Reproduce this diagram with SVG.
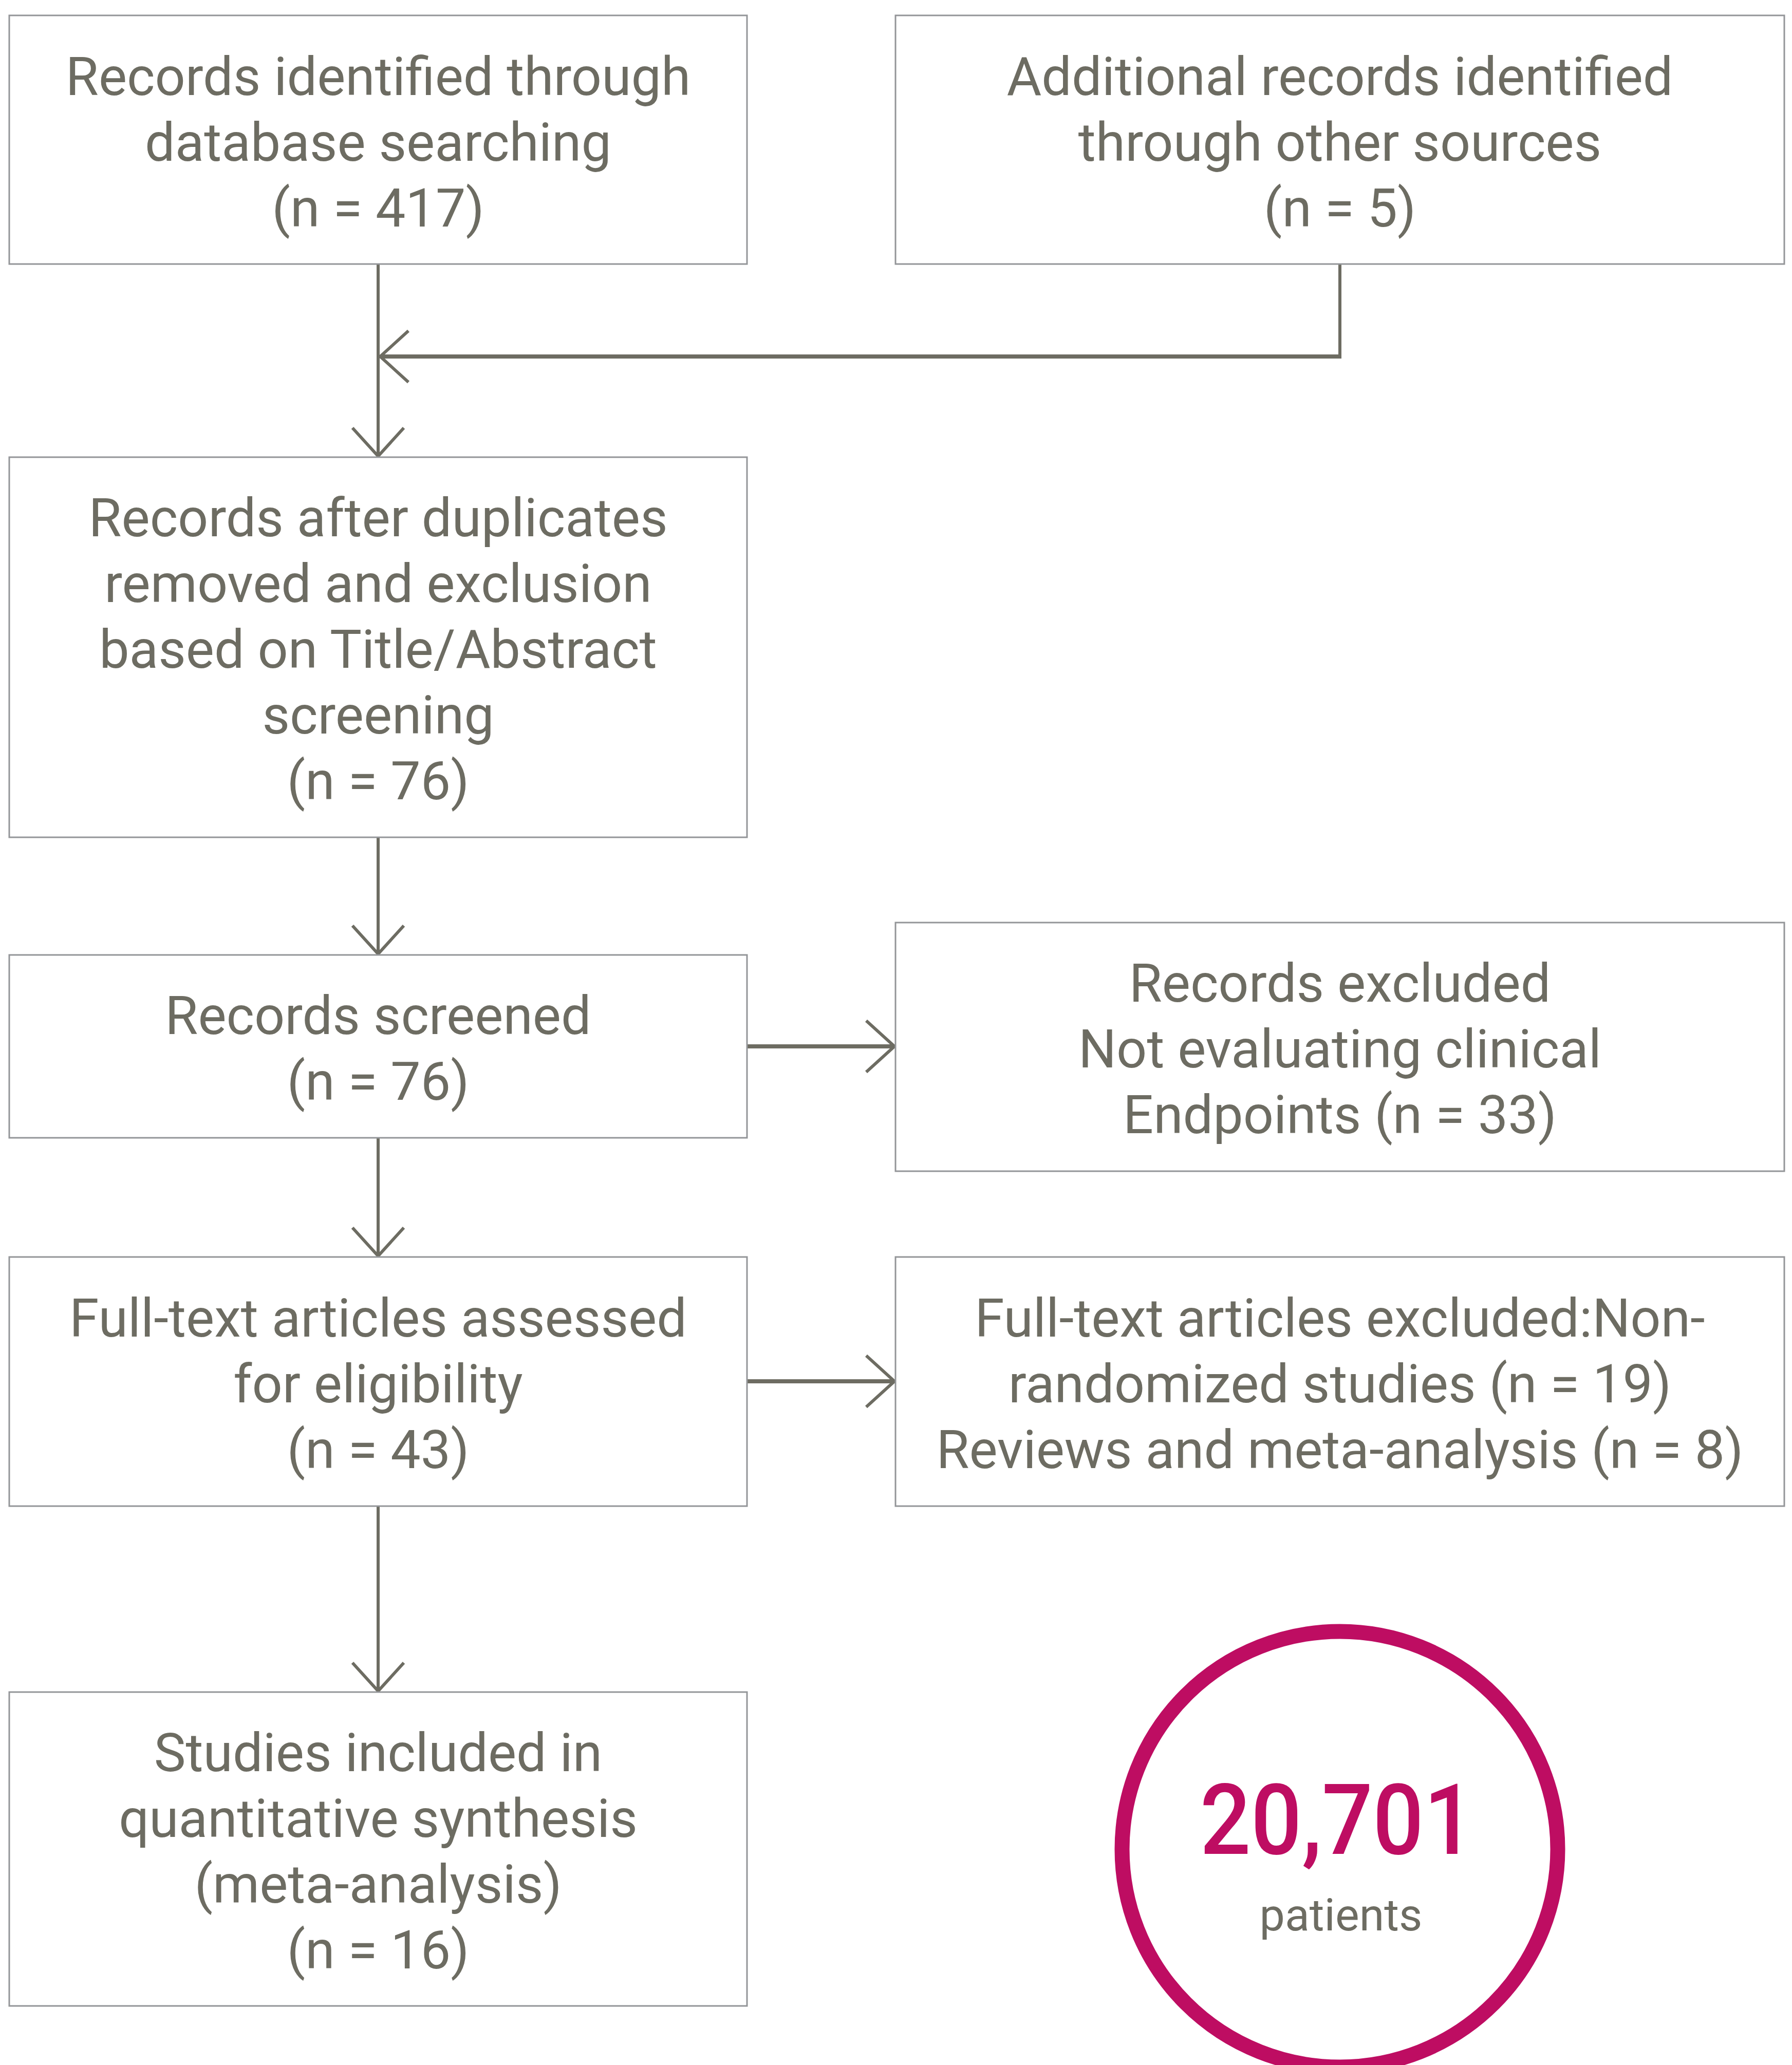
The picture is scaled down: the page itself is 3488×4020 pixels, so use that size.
<svg xmlns="http://www.w3.org/2000/svg" width="3488" height="4020" viewBox="0 0 3488 4020">
  <style>
    .box { fill: #ffffff; stroke: #939598; stroke-width: 3; }
    .t { font-family: Roboto, "Liberation Sans", sans-serif; font-size: 104px; fill: #6d6c62; text-anchor: middle; }
    .conn { fill: none; stroke: #6d6c62; stroke-width: 6; }
    .connh { fill: none; stroke: #6d6c62; stroke-width: 8; }
  </style>
  <defs>
    <marker id="arrow" viewBox="-65 -60 75 120" markerWidth="75" markerHeight="120" refX="0" refY="0" markerUnits="userSpaceOnUse" orient="auto">
      <path d="M -55 -50 L 0 0 L -55 50" fill="none" stroke="#6d6c62" stroke-width="6"/>
    </marker>
  </defs>
  <rect width="3488" height="4020" fill="#ffffff"/>

  <g id="connectors">
    <path class="conn" d="M 736 514 L 736 888" marker-end="url(#arrow)"/>
    <path class="conn" d="M 2608 514 L 2608 694"/>
    <path class="connh" d="M 2611 694 L 740 694" marker-end="url(#arrow)"/>
    <path class="conn" d="M 736 1630 L 736 1857" marker-end="url(#arrow)"/>
    <path class="connh" d="M 1454 2037 L 1741 2037" marker-end="url(#arrow)"/>
    <path class="conn" d="M 736 2215 L 736 2445" marker-end="url(#arrow)"/>
    <path class="connh" d="M 1454 2689 L 1741 2689" marker-end="url(#arrow)"/>
    <path class="conn" d="M 736 2932 L 736 3292" marker-end="url(#arrow)"/>
  </g>

  <g id="node-db">
    <rect class="box" x="18" y="30" width="1436" height="484"/>
    <text class="t" x="736" y="185">Records identified through</text>
    <text class="t" x="736" y="313">database searching</text>
    <text class="t" x="736" y="441">(n = 417)</text>
  </g>
  <g id="node-other">
    <rect class="box" x="1743" y="30" width="1730" height="484"/>
    <text class="t" x="2608" y="185">Additional records identified</text>
    <text class="t" x="2608" y="313">through other sources</text>
    <text class="t" x="2608" y="441">(n = 5)</text>
  </g>
  <g id="node-dup">
    <rect class="box" x="18" y="890" width="1436" height="740"/>
    <text class="t" x="736" y="1044">Records after duplicates</text>
    <text class="t" x="736" y="1172">removed and exclusion</text>
    <text class="t" x="736" y="1300">based on Title/Abstract</text>
    <text class="t" x="736" y="1428">screening</text>
    <text class="t" x="736" y="1556">(n = 76)</text>
  </g>
  <g id="node-screened">
    <rect class="box" x="18" y="1859" width="1436" height="356"/>
    <text class="t" x="736" y="2013">Records screened</text>
    <text class="t" x="736" y="2141">(n = 76)</text>
  </g>
  <g id="node-excluded">
    <rect class="box" x="1743" y="1796" width="1730" height="484"/>
    <text class="t" x="2608" y="1950">Records excluded</text>
    <text class="t" x="2608" y="2078">Not evaluating clinical</text>
    <text class="t" x="2608" y="2206">Endpoints (n = 33)</text>
  </g>
  <g id="node-fulltext">
    <rect class="box" x="18" y="2447" width="1436" height="485"/>
    <text class="t" x="736" y="2602">Full-text articles assessed</text>
    <text class="t" x="736" y="2730">for eligibility</text>
    <text class="t" x="736" y="2858">(n = 43)</text>
  </g>
  <g id="node-ftexcluded">
    <rect class="box" x="1743" y="2447" width="1730" height="485"/>
    <text class="t" x="2608" y="2602">Full-text articles excluded:Non-</text>
    <text class="t" x="2608" y="2730">randomized studies (n = 19)</text>
    <text class="t" x="2608" y="2858">Reviews and meta-analysis (n = 8)</text>
  </g>
  <g id="node-included">
    <rect class="box" x="18" y="3294" width="1436" height="611"/>
    <text class="t" x="736" y="3448">Studies included in</text>
    <text class="t" x="736" y="3576">quantitative synthesis</text>
    <text class="t" x="736" y="3704">(meta-analysis)</text>
    <text class="t" x="736" y="3832">(n = 16)</text>
  </g>
  <g id="node-patients">
    <circle cx="2608" cy="3600" r="424" fill="none" stroke="#be0d62" stroke-width="29"/>
    <text x="2603" y="3609" font-family="Roboto, 'Liberation Sans', sans-serif" font-weight="500" font-size="192" fill="#be0d62" text-anchor="middle" textLength="535" lengthAdjust="spacingAndGlyphs">20,701</text>
    <text x="2610" y="3758" font-family="Roboto, 'Liberation Sans', sans-serif" font-size="88" fill="#6d6c62" text-anchor="middle">patients</text>
  </g>
</svg>
